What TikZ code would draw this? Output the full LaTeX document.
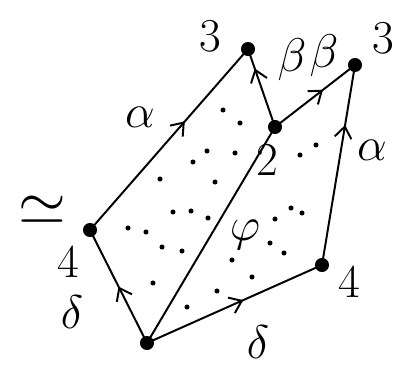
\documentclass[tikz,border=0pt]{standalone}
\usepackage{amsmath,amssymb}
\usetikzlibrary{arrows.meta,decorations.markings}
\tikzset{
  midarrow/.style={postaction={decorate},decoration={markings,
    mark=at position #1 with {\arrow{Straight Barb[length=8pt,width=12pt]}}}},
  midarrow/.default=0.55,
  lab/.style={font=\Huge, scale=1.35, inner sep=0pt}
}
\begin{document}
\begin{tikzpicture}[x=0.025cm,y=-0.025cm,line width=1.4pt]
\useasboundingbox (0,0) rectangle (412,371);
\coordinate (B) at (147,343); \coordinate (L) at (90,230);
\coordinate (T) at (248,49); \coordinate (M) at (275,127);
\coordinate (S) at (355,65); \coordinate (R) at (322,265);
% the dotted 2-cells
\foreach \x/\y in {223/110,240/123,207/151,235/153,193/162,160/179,215/182,
  173/212,191/211,208/218,128/228,146/232,162/247,182/251,153/283,187/307,
  270/243,232/260,252/277,217/291,316/145,300/155,291/208,302/213,275/219,284/253}
  {\fill (\x,\y) circle (1.8pt);}
\draw[midarrow=0.5] (B) -- (L);
\draw[midarrow=0.6] (L) -- (T);
\draw[midarrow=0.55] (B) -- (R);
\draw[midarrow=0.7] (R) -- (S);
\draw[midarrow=0.75] (M) -- (T);
\draw[midarrow=0.6] (M) -- (S);
\draw (B) -- (M);
\foreach \p in {B,L,T,M,S,R} {\fill (\p) circle (5pt);}
% labels
\node[lab,scale=1.3] (eq) at (42,210) {$\simeq$};
\node[lab] (nL) at (68,262) {$4$};
\node[lab] (dL) at (72,312) {$\delta$};
\node[lab] (aL) at (140,117) {$\alpha$};
\node[lab] (nT) at (210,36) {$3$};
\node[lab] (b1) at (292,60) {$\beta$};
\node[lab] (b2) at (324,56) {$\beta$};
\node[lab] (nS) at (383,38) {$3$};
\node[lab] (aR) at (372,150) {$\alpha$};
\node[lab] (nM) at (267,160) {$2$};
\node[lab] (ph) at (245,235) {$\varphi$};
\node[lab] (nR) at (349,282) {$4$};
\node[lab] (dR) at (258,342) {$\delta$};
\end{tikzpicture}
\end{document}
